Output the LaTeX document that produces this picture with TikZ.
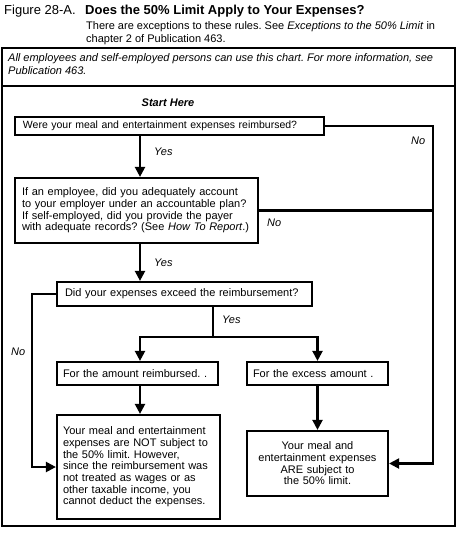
\documentclass[tikz,border=0pt]{standalone}
\usepackage{fontspec}
\setmainfont{Liberation Sans}
\usetikzlibrary{arrows.meta,positioning}
\tikzset{
  taxBox/.style={
    draw=black,
    line width=2.2pt,
    font=\fontsize{11}{11.7}\selectfont,
    inner xsep=6pt,
    inner ysep=2pt
  },
  taxArrow/.style={line width=2.2pt, -{Triangle[length=10pt,width=10pt]}},
  taxLine/.style={line width=2.2pt},
  answerLabel/.style={font=\fontsize{11}{12}\selectfont\itshape, inner sep=0pt}
}

\begin{document}
\frenchspacing
\begin{tikzpicture}[x=1pt,y=-1pt]
  \useasboundingbox (0,0) rectangle (458,543);
  % heading
  \node[anchor=west, inner sep=0pt, font=\fontsize{13}{15}\selectfont]
    (figNum) at (4,11) {Figure 28-A.};
  \node[anchor=west, inner sep=0pt, font=\fontsize{13}{15}\selectfont\bfseries]
    (figTitle) at (85,11) {Does the 50\% Limit Apply to Your Expenses?};
  \node[anchor=north west, inner sep=0pt, align=left,
    font=\fontsize{11}{13.5}\selectfont]
    (figNote) at (86,21)
    {There are exceptions to these rules. See \textit{Exceptions to the 50\% Limit} in\\
    chapter 2 of Publication 463.};

  % frame
  \draw[taxLine] (2,48) rectangle (455,526);
  \draw[taxLine] (2,86) -- (455,86);
  \node[anchor=north west, inner sep=0pt, align=left,
    font=\fontsize{11}{13.5}\selectfont\itshape]
    (useNote) at (8,53)
    {All employees and self-employed persons can use this chart. For more information, see\\
    Publication 463.};

  % questions
  \node[font=\fontsize{11}{12}\selectfont\bfseries\itshape, inner sep=0pt]
    (start) at (168,103) {Start Here};
  \node[taxBox, text width=293pt, minimum height=18pt, align=left,
    inner xsep=8pt, font=\fontsize{10.5}{11.7}\selectfont]
    (reimbursed) at (169.5,126)
    {Were your meal and entertainment expenses reimbursed?};
  \node[taxBox, text width=229pt, minimum height=65pt, align=left,
    inner xsep=7pt]
    (accounted) at (136.5,210.5)
    {If an employee, did you adequately account\\
    to your employer under an accountable plan?\\
    If self-employed, did you provide the payer\\
    \mbox{with adequate records? (See \textit{How To Report}.)}};
  \node[taxBox, text width=239pt, minimum height=24pt, align=left,
    inner xsep=8pt]
    (exceeded) at (184.5,294)
    {Did your expenses exceed the reimbursement?};
  \node[taxBox, text width=149pt, minimum height=23pt, align=left]
    (amountPart) at (137.5,373.5)
    {For the amount reimbursed. .};
  \node[taxBox, text width=129pt, minimum height=23pt, align=left]
    (excessPart) at (317.5,373.5)
    {For the excess amount .};

  % results
  \node[taxBox, text width=151pt, minimum height=104pt, align=left]
    (notSubject) at (138.5,467)
    {Your meal and entertainment\\
    expenses are NOT subject to\\
    the 50\% limit. However,\\
    since the reimbursement was\\
    not treated as wages or as\\
    other taxable income, you\\
    cannot deduct the expenses.};
  \node[taxBox, text width=129pt, minimum height=65pt, align=center]
    (isSubject) at (317.5,463.5)
    {Your meal and\\
    entertainment expenses\\
    ARE subject to\\
    the 50\% limit.};

  % routing points
  \coordinate (spine) at (140,0);
  \coordinate (rightRail) at (433,0);
  \coordinate (leftRail) at (32,0);
  \coordinate (split) at (213,337);

  % connectors
  \draw[taxArrow] (reimbursed.south -| spine) -- (accounted.north -| spine);
  \draw[taxArrow] (accounted.south -| spine) -- (exceeded.north -| spine);
  \draw[taxLine] (exceeded.south -| split) -- (split);
  \draw[taxArrow] (split) -| (amountPart.north -| spine);
  \draw[taxArrow] (split) -| (excessPart.north);
  \draw[taxArrow] (amountPart.south -| spine) -- (notSubject.north -| spine);
  \draw[taxArrow] (excessPart.south) -- (isSubject.north);
  \draw[taxArrow] (reimbursed.east) -- (reimbursed.east -| rightRail)
    -- (isSubject.east -| rightRail) -- (isSubject.east);
  \draw[taxLine] (accounted.east) -- (accounted.east -| rightRail);
  \draw[taxArrow] (exceeded.west) -- (exceeded.west -| leftRail)
    -- (notSubject.west -| leftRail) -- (notSubject.west);

  % answers
  \node[answerLabel, anchor=west] (yesOne) at (154,152) {Yes};
  \node[answerLabel, anchor=west] (noOne) at (411,141) {No};
  \node[answerLabel, anchor=west] (noTwo) at (267,223) {No};
  \node[answerLabel, anchor=west] (yesTwo) at (154,263) {Yes};
  \node[answerLabel, anchor=west] (yesThree) at (222,320) {Yes};
  \node[answerLabel, anchor=west] (noThree) at (11,352) {No};
\end{tikzpicture}
\end{document}
